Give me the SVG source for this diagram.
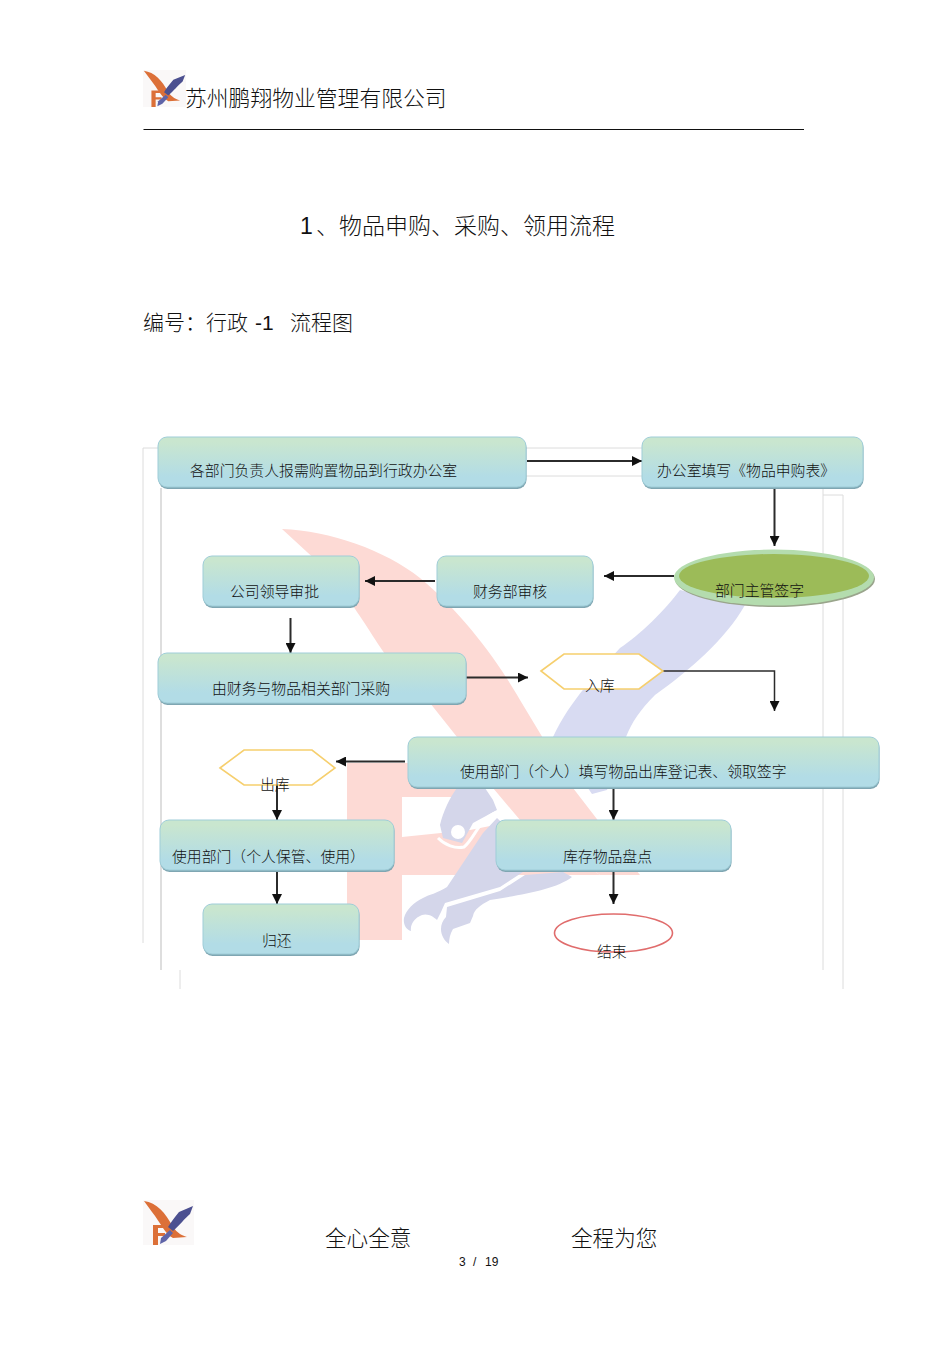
<svg xmlns="http://www.w3.org/2000/svg" width="950" height="1345" viewBox="0 0 950 1345">
<style>
text{font-family:"Noto Sans CJK SC","Noto Sans CJK JP",sans-serif;font-weight:300;fill:#111}
.lat{font-family:"Liberation Sans",sans-serif;font-weight:400}
.n{font-size:14.85px}
.box{fill:url(#g);stroke:#9fcdd8;stroke-width:1}
.sh{fill:#7fa6b2}
.hex{fill:#fff;stroke:#f6cf6e;stroke-width:1.6}
.c{fill:none;stroke:#2b2b2b;stroke-width:2;marker-end:url(#a)}
.f{fill:none;stroke:#dcdcdc;stroke-width:1}
.f2{fill:none;stroke:#bdbdbd;stroke-width:1}
.pk{fill:#fddad5}
.bl{fill:#d4d6ea}
</style>
<defs>
<linearGradient id="g" x1="0" y1="0" x2="0" y2="1"><stop offset="0.1" stop-color="#c9e6cf"/><stop offset="0.8" stop-color="#b2dce6"/></linearGradient>
<marker id="a" markerUnits="userSpaceOnUse" markerWidth="11" markerHeight="10" refX="10" refY="5" orient="auto"><path d="M0 0L10 5L0 10Z" fill="#111"/></marker>
<symbol id="logo" viewBox="0 0 51 45" preserveAspectRatio="none">
<rect width="51" height="45" fill="#faf8f8"/>
<path d="M1 1C14 3 22 12 30 27C34 33 40 36 44 37L30 38C22 34 17 22 9 12Z" fill="#dc7038"/>
<path d="M50 6L36 12C31 18 28 22 25 27L30 31C36 26 42 18 47 14Z" fill="#4c5090"/>
<path d="M10 25H22V28H15V33H22V36H15V45H10Z" fill="#dc7038"/>
<path d="M18 38L27 30L30 33L23 41L17 44Z" fill="#5f64a8"/>
</symbol>
</defs>
<rect width="950" height="1345" fill="#fff"/>
<g id="watermark">
<path class="pk" d="M282 529C330 531 385 550 420 578C465 615 500 665 520 700L573 788L640 875H600L520 820L493 788L457 737L430 703L400 672C385 658 370 630 357 612C340 585 325 568 307 552Z"/>
<path class="pk" d="M347 763H420V788H470V797H402V837L470 830L520 820L600 875H402V940H347Z"/>
<path d="M680 590L745 605C725 640 690 670 655 695C640 710 632 722 626 737L607 790L592 794L553 737C570 700 600 670 620 648C640 635 665 610 680 590Z" fill="#d8dbf2"/>
<path class="bl" d="M457 788C450 797 443 812 440 825L443 838L462 843L473 823L497 810L493 800L485 788Z"/>
<circle cx="458" cy="832" r="7" fill="#fff"/>
<path d="M438 838C445 845 455 849 464 847C475 838 478 820 497 812" fill="none" stroke="#fff" stroke-width="3"/>
<path class="bl" d="M497 818L483 833L467 857L447 887C438 893 428 895 423 898C414 902 406 910 404 918C403 924 406 930 411 931C410 925 414 918 422 915C428 913 434 917 437 920L441 912L445 903L500 887L523 872L520 840Z"/>
<path class="bl" d="M447 907L500 891L525 875L563 872L572 877C555 890 520 895 490 900C480 905 474 910 473 916L470 923L453 929C450 934 449 939 449 944C440 938 438 925 446 917Z"/>
</g>
<g id="frame">
<path class="f" d="M158 448H143V943M526 448H642M526 476H642M823 495H843V989M180 970V989"/>
<path class="f2" d="M161 488V970"/>
<path class="f" d="M823 488V970"/>
</g>
<g id="header">
<use href="#logo" x="143" y="70" width="43" height="37"/>
<text x="185" y="106" font-size="21.8">苏州鹏翔物业管理有限公司</text>
<path d="M143.500 129.500H804" stroke="#111" stroke-width="1.200" fill="none"/>
</g>
<g id="title">
<text class="lat" x="300" y="234" font-size="23">1</text>
<text x="316" y="234" font-size="23">、物品申购、采购、领用流程</text>
<text x="143" y="330" font-size="21">编号：行政</text>
<text class="lat" x="255" y="330" font-size="21">-1</text>
<text x="290" y="330" font-size="21">流程图</text>
</g>
<g id="connectors">
<path class="c" d="M527 461H642"/>
<path class="c" d="M774.500 489V546"/>
<path class="c" d="M674 576H604"/>
<path class="c" d="M435 581H365"/>
<path class="c" d="M290.500 618V653"/>
<path class="c" d="M466 677.500H528"/>
<path class="c" style="stroke-width:1.500" d="M663 671H774.500V711"/>
<path class="c" d="M405 761.500H336"/>
<path class="c" d="M277 785V820"/>
<path class="c" d="M277 869V904"/>
<path class="c" d="M613.500 786V820"/>
<path class="c" d="M613.500 869V904"/>
</g>
<g id="n1"><rect class="sh" x="158.500" y="439" width="368" height="50" rx="9"/><rect class="box" x="158" y="437" width="368" height="50" rx="9"/><text class="n" x="190" y="476">各部门负责人报需购置物品到行政办公室</text></g>
<g id="n2"><rect class="sh" x="642.500" y="439" width="221" height="50" rx="9"/><rect class="box" x="642" y="437" width="221" height="50" rx="9"/><text class="n" x="657" y="476">办公室填写《物品申购表》</text></g>
<g id="n3"><ellipse cx="775" cy="579" rx="100" ry="28" fill="#9aa58c"/><ellipse cx="774" cy="577.500" rx="100" ry="28" fill="#b4dcae"/><ellipse cx="774" cy="576" rx="95" ry="22" fill="#9cbb58"/><text class="n" x="715" y="596">部门主管签字</text></g>
<g id="n4"><rect class="sh" x="437.500" y="558" width="156" height="50" rx="9"/><rect class="box" x="437" y="556" width="156" height="50" rx="9"/><text class="n" x="473" y="597">财务部审核</text></g>
<g id="n5"><rect class="sh" x="203.500" y="558" width="156" height="50" rx="9"/><rect class="box" x="203" y="556" width="156" height="50" rx="9"/><text class="n" x="230" y="597">公司领导审批</text></g>
<g id="n6"><rect class="sh" x="158.500" y="655" width="308" height="50" rx="9"/><rect class="box" x="158" y="653" width="308" height="50" rx="9"/><text class="n" x="212" y="694">由财务与物品相关部门采购</text></g>
<g id="n7"><path class="hex" d="M541 671L564 654H639L663 671L639 689H564Z"/><text class="n" x="585" y="691">入库</text></g>
<g id="n8"><rect class="sh" x="408.500" y="739" width="471" height="50" rx="9"/><rect class="box" x="408" y="737" width="471" height="50" rx="9"/><text class="n" x="460" y="777">使用部门（个人）填写物品出库登记表、领取签字</text></g>
<g id="n9"><path class="hex" d="M220 768L244 750H312L335 768L312 785H244Z"/><text class="n" x="260" y="790">出库</text></g>
<g id="n10"><rect class="sh" x="160.500" y="822" width="234" height="50" rx="9"/><rect class="box" x="160" y="820" width="234" height="50" rx="9"/><text class="n" x="172" y="862">使用部门（个人保管、使用）</text></g>
<g id="n11"><rect class="sh" x="496.500" y="822" width="235" height="50" rx="9"/><rect class="box" x="496" y="820" width="235" height="50" rx="9"/><text class="n" x="563" y="862">库存物品盘点</text></g>
<g id="n12"><rect class="sh" x="203.500" y="906" width="156" height="50" rx="9"/><rect class="box" x="203" y="904" width="156" height="50" rx="9"/><text class="n" x="262" y="946">归还</text></g>
<g id="n13"><ellipse cx="613.500" cy="933" rx="59" ry="19" fill="#fff" stroke="#e06c6c" stroke-width="1.600"/><text class="n" x="597" y="957">结束</text></g>
<g id="footer">
<use href="#logo" x="143" y="1200" width="51" height="45"/>
<text x="325" y="1246" font-size="21.600">全心全意</text>
<text x="571" y="1246" font-size="21.600">全程为您</text>
<text class="lat" x="459" y="1266" font-size="12">3</text>
<text class="lat" x="473" y="1266" font-size="12">/</text>
<text class="lat" x="485" y="1266" font-size="12">19</text>
</g>
</svg>
